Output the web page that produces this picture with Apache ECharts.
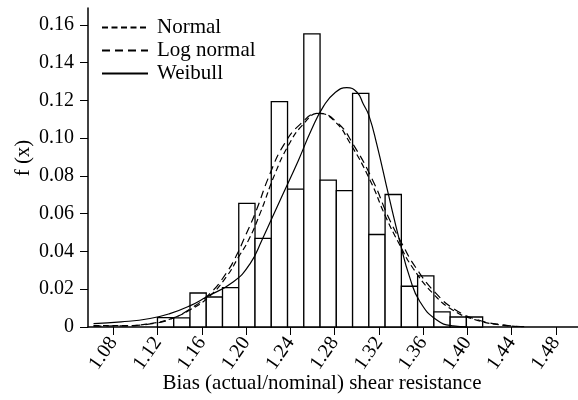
<!DOCTYPE html>
<html lang="en">
<head>
    <meta charset="UTF-8">
    <title>Bias histogram</title>
    <script src="https://cdn.jsdelivr.net/npm/echarts@6/dist/echarts.min.js"></script>
    <style>
        * {
            margin: 0;
            padding: 0;
        }

        html, body {
            width: 100%;
            height: 100%;
            overflow: hidden;
            background: #fff;
        }

        .chart {
            width: 578px;
            height: 400px;
        }
    </style>
</head>
<body>
<div class="chart"></div>
<script>
    // histogram bins (edges) and relative frequencies
    let binEdges = [1.1198, 1.1345, 1.1492, 1.1639, 1.1786, 1.1933, 1.2080, 1.2227, 1.2374, 1.2521, 1.2668,
        1.2815, 1.2962, 1.3109, 1.3256, 1.3403, 1.3550, 1.3697, 1.3844, 1.3991, 1.4138];
    let freq = [0.0050, 0.0048, 0.0180, 0.0159, 0.0209, 0.0655, 0.0469, 0.1194, 0.0730, 0.1553,
        0.0778, 0.0722, 0.1238, 0.0490, 0.0702, 0.0216, 0.0271, 0.0080, 0.0053, 0.0053];

    // fitted curves
    let normal = [[1.062, 0.0007], [1.09, 0.0007], [1.115, 0.0020], [1.131, 0.0042], [1.149, 0.0090],
        [1.166, 0.0158], [1.182, 0.0265], [1.193, 0.0370], [1.2021, 0.0460], [1.2126, 0.0602],
        [1.2262, 0.0814], [1.238, 0.0960], [1.251, 0.1070], [1.2654, 0.1132], [1.28, 0.1090],
        [1.294, 0.0973], [1.312, 0.0778], [1.3257, 0.0590], [1.339, 0.0433], [1.351, 0.0310],
        [1.369, 0.0177], [1.387, 0.0089], [1.409, 0.0035], [1.433, 0.0009], [1.45, 0.0002]];
    let logNormal = [[1.062, 0.0005], [1.09, 0.0006], [1.115, 0.0018], [1.131, 0.0040], [1.149, 0.0095],
        [1.166, 0.0170], [1.182, 0.0285], [1.193, 0.0400], [1.1975, 0.0460], [1.2081, 0.0602],
        [1.2217, 0.0814], [1.234, 0.0965], [1.249, 0.1075], [1.2654, 0.1132], [1.282, 0.1085],
        [1.297, 0.0965], [1.315, 0.0770], [1.328, 0.0590], [1.341, 0.0440], [1.353, 0.0318],
        [1.371, 0.0182], [1.389, 0.0092], [1.41, 0.0037], [1.434, 0.0010], [1.452, 0.0002]];
    let weibull = [[1.062, 0.0018], [1.087, 0.0027], [1.113, 0.0045], [1.131, 0.0071], [1.149, 0.0112],
        [1.164, 0.0159], [1.1885, 0.0240], [1.2036, 0.0336], [1.2142, 0.0460], [1.2307, 0.0672],
        [1.2473, 0.0884], [1.259, 0.1045], [1.270, 0.1170], [1.280, 0.1240], [1.291, 0.1268],
        [1.300, 0.1245], [1.306, 0.1180], [1.311, 0.1120], [1.318, 0.0970], [1.3287, 0.0700],
        [1.339, 0.0450], [1.348, 0.0260], [1.357, 0.0135], [1.372, 0.0038], [1.387, 0.0006], [1.40, 0.0001]];

    let xTicks = [1.08, 1.12, 1.16, 1.20, 1.24, 1.28, 1.32, 1.36, 1.40, 1.44, 1.48];
    let yTicks = [0, 0.02, 0.04, 0.06, 0.08, 0.10, 0.12, 0.14, 0.16];

    let font = 'Liberation Serif';
    let bins = freq.map((f, i) => [binEdges[i], binEdges[i + 1], f]);

    let chart = echarts.init(document.querySelector('.chart'));
    let option = {
        animation: false,
        backgroundColor: '#fff',
        grid: {left: 88, right: 0, top: 8, bottom: 73},
        legend: {
            orient: 'vertical',
            left: 96,
            top: 12,
            itemWidth: 46,
            itemHeight: 14,
            itemGap: 2,
            itemStyle: {opacity: 0},
            textStyle: {fontFamily: font, fontSize: 21, color: '#000', padding: [0, 0, 0, 4]},
            data: ['Normal', 'Log normal', 'Weibull']
        },
        xAxis: {
            type: 'value',
            min: 1.057,
            max: 1.5,
            splitLine: {show: false},
            axisLine: {lineStyle: {color: '#000', width: 1.5}},
            axisTick: {customValues: xTicks, length: 8, lineStyle: {color: '#000', width: 1}},
            axisLabel: {
                customValues: xTicks,
                rotate: 55,
                margin: 12,
                fontFamily: font,
                fontSize: 20,
                color: '#000',
                formatter: v => v.toFixed(2)
            }
        },
        yAxis: {
            type: 'value',
            min: 0,
            max: 0.169,
            splitLine: {show: false},
            axisLine: {show: true, lineStyle: {color: '#000', width: 1.5}},
            axisTick: {show: true, customValues: yTicks, length: 8, lineStyle: {color: '#000', width: 1}},
            axisLabel: {
                customValues: yTicks,
                margin: 14,
                fontFamily: font,
                fontSize: 20,
                color: '#000',
                formatter: v => v === 0 ? '0' : v.toFixed(2)
            }
        },
        graphic: [
            {
                type: 'text',
                x: 23,
                y: 158,
                rotation: Math.PI / 2,
                style: {
                    text: 'f (x)', fontFamily: font, fontSize: 21, fill: '#000',
                    textAlign: 'center', textVerticalAlign: 'middle'
                }
            },
            {
                type: 'text',
                x: 322,
                y: 383,
                style: {
                    text: 'Bias (actual/nominal) shear resistance', fontFamily: font, fontSize: 21, fill: '#000',
                    textAlign: 'center', textVerticalAlign: 'middle'
                }
            }
        ],
        series: [
            {
                name: 'hist',
                type: 'custom',
                data: bins,
                encode: {x: [0, 1], y: 2},
                z: 1,
                renderItem: function (params, api) {
                    let p0 = api.coord([api.value(0), api.value(2)]);
                    let p1 = api.coord([api.value(1), 0]);
                    return {
                        type: 'rect',
                        shape: {x: p0[0], y: p0[1], width: p1[0] - p0[0], height: p1[1] - p0[1]},
                        style: {fill: '#fff', stroke: '#000', lineWidth: 1.3}
                    };
                }
            },
            {
                name: 'Normal',
                type: 'line',
                data: normal,
                smooth: true,
                symbol: 'none',
                z: 3,
                itemStyle: {color: '#000'},
                lineStyle: {color: '#000', width: 1.2, type: [6, 3.5]}
            },
            {
                name: 'Log normal',
                type: 'line',
                data: logNormal,
                smooth: true,
                symbol: 'none',
                z: 3,
                itemStyle: {color: '#000'},
                lineStyle: {color: '#000', width: 1.2, type: [8, 5]}
            },
            {
                name: 'Weibull',
                type: 'line',
                data: weibull,
                smooth: true,
                symbol: 'none',
                z: 3,
                itemStyle: {color: '#000'},
                lineStyle: {color: '#000', width: 1.2}
            }
        ]
    };
    chart.setOption(option);
</script>
</body>
</html>
